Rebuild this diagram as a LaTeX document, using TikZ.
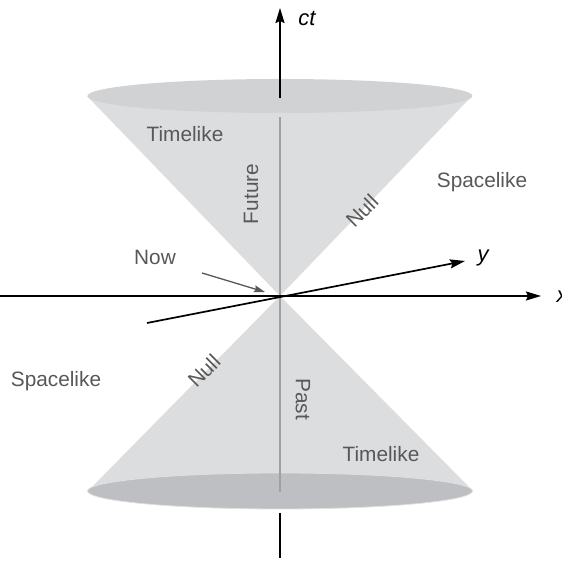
\documentclass[tikz,border=0pt]{standalone}
\usepackage{fontspec}
\setmainfont{Liberation Sans}
\usepackage{tikz}
\usetikzlibrary{arrows.meta,positioning,calc}
\definecolor{conefill}{RGB}{220,221,223}
\definecolor{topcap}{RGB}{209,210,212}
\definecolor{botcap}{RGB}{190,191,194}
\definecolor{lblgray}{RGB}{88,88,88}
\definecolor{midgray}{RGB}{160,160,160}

\begin{document}
\begin{tikzpicture}[x=1pt, y=1pt,
    cone/.style={fill=conefill, draw=none},
    axis/.style={draw=black, line width=1.7pt, -{Stealth[length=15pt,width=9pt,inset=2pt]}},
    lbl/.style={text=lblgray, font=\fontsize{20.8}{24}\selectfont},
    axlbl/.style={text=black, font=\fontsize{22}{26}\selectfont\itshape}
]
\useasboundingbox (-280,-265) rectangle (282,296);

% events and cone rims
\coordinate (now) at (0,0);
\coordinate (fl) at (-193,200);
\coordinate (fr) at (192,200);
\coordinate (pl) at (-192,-195);
\coordinate (pr) at (193,-195);

% light cones
\fill[cone] (fl) -- (now) -- (fr) -- cycle;
\fill[cone] (pl) -- (now) -- (pr) -- cycle;
\fill[topcap] (0,200) ellipse [x radius=192.5, y radius=17];
\fill[botcap, draw=white!88!black, line width=0.8pt] (0,-195) ellipse [x radius=192.5, y radius=18];

% time line through the cones
\coordinate (mtop) at (0,179);
\coordinate (mbot) at (0,-196);
\draw[midgray, line width=1.4pt] (mtop) -- (mbot);

% axes
\coordinate (xa) at (-280,0);
\coordinate (xb) at (261,0);
\coordinate (ya) at (-133,-27);
\coordinate (yb) at (185,35);
\coordinate (ta) at (0,198);
\coordinate (tb) at (0,288);
\coordinate (sa) at (0,-217);
\coordinate (sb) at (0,-262);
\draw[axis] (xa) -- (xb);
\draw[axis] (ya) -- (yb);
\draw[axis] (ta) -- (tb);
\draw[black, line width=1.7pt] (sa) -- (sb);

\node[axlbl] (xlab) at (282,-1) {x};
\node[axlbl] (ylab) at (203,38) {y};
\node[axlbl] (tlab) at (27,277) {ct};

% regions
\node[lbl, anchor=base] (tlf) at (-95,154) {Timelike};
\node[lbl, rotate=90] (fut) at (-29,102) {Future};
\node[lbl, rotate=45] (nlf) at (82,85) {Null};
\node[lbl, anchor=base] (spr) at (202,108) {Spacelike};
\node[lbl, anchor=base] (spl) at (-224,-91) {Spacelike};
\node[lbl, rotate=45] (nlp) at (-76,-75) {Null};
\node[lbl, rotate=-90] (pst) at (23,-103) {Past};
\node[lbl, anchor=base] (tlp) at (101,-166) {Timelike};

% the present event
\node[lbl, anchor=base] (nowlab) at (-125,31) {Now};
\coordinate (nowtail) at (-78,23);
\coordinate (nowtip) at (-15,4);
\draw[lblgray, line width=1.3pt, -{Stealth[length=11pt,width=7pt,inset=1.5pt]}] (nowtail) -- (nowtip);
\end{tikzpicture}
\end{document}
